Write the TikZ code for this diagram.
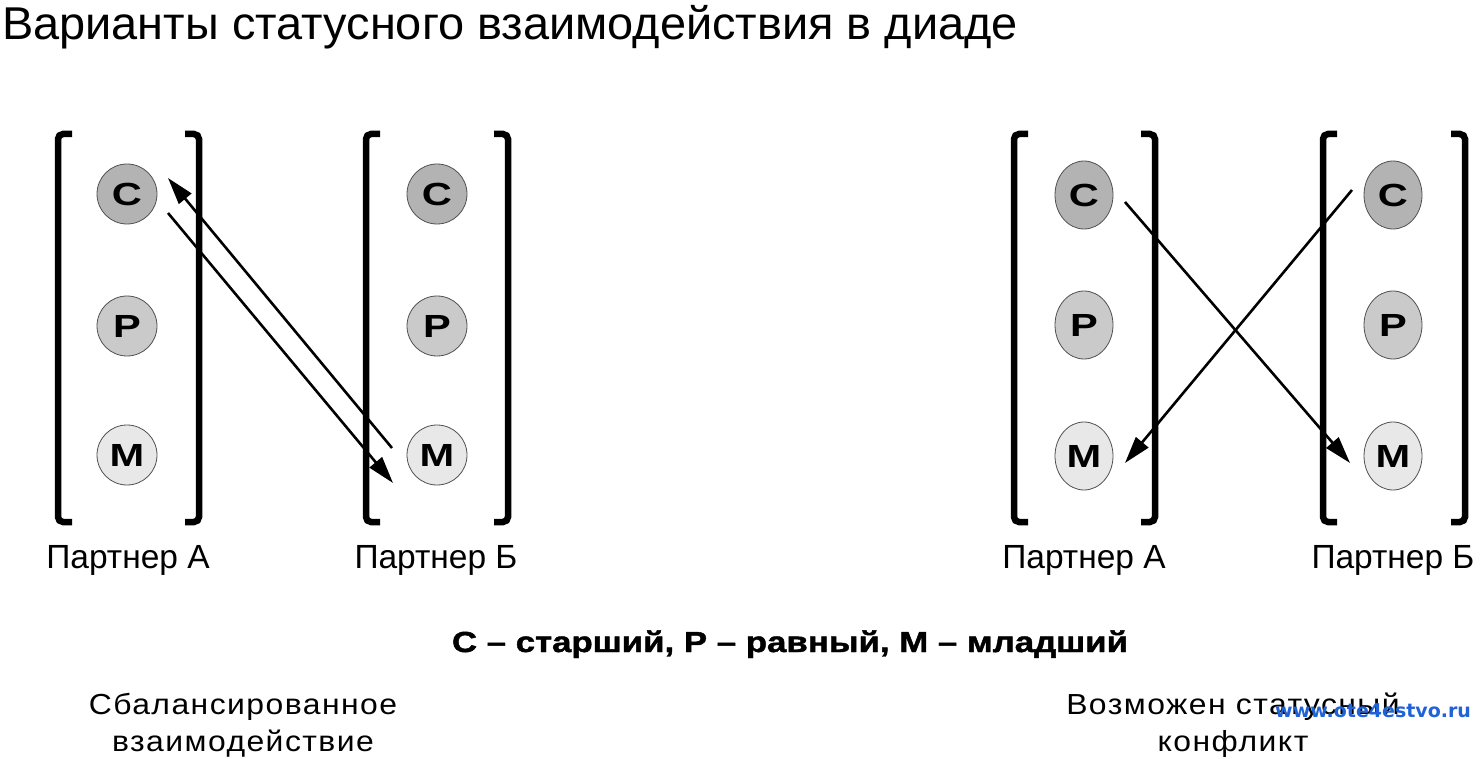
\documentclass[tikz,border=0pt]{standalone}
\usepackage{fontspec}
\setmainfont{Liberation Sans}
\newfontfamily\titlefont[FakeStretch=1.02]{Liberation Sans}
\newfontfamily\spacedfont[FakeStretch=1.1, LetterSpace=5]{Liberation Sans}
\newfontfamily\widefont[FakeStretch=1.3]{Liberation Sans}
\newfontfamily\legendfont[FakeStretch=1.2, FakeBold=1.5]{Liberation Sans}
\newfontfamily\wwwfont{DejaVu Sans}
\usetikzlibrary{arrows.meta, calc, shapes.geometric}
\definecolor{stHigh}{HTML}{B3B3B3}
\definecolor{stEq}{HTML}{CACACA}
\definecolor{stLow}{HTML}{E8E8E8}
\definecolor{stLine}{HTML}{505050}
\definecolor{wwwBlue}{HTML}{1F63D6}

\begin{document}
\begin{tikzpicture}[x=1pt, y=-1pt,
  role/.style={circle, draw=stLine, line width=0.8pt, minimum size=60pt,
               inner sep=0pt, font=\widefont\fontsize{32}{32}\selectfont\bfseries},
  oval/.style={role, ellipse, minimum width=58pt, minimum height=68pt},
  high/.style={fill=stHigh},
  eq/.style={fill=stEq},
  low/.style={fill=stLow},
  brk/.style={line width=6.5pt, rounded corners=5pt},
  arr/.style={-{Triangle[length=27pt, width=16pt]}, line width=2.6pt},
  lab/.style={font=\fontsize{33.5}{33.5}\selectfont, anchor=base},
  note/.style={font=\spacedfont\fontsize{29}{37}\selectfont, align=center, anchor=base}
]
  \useasboundingbox (0,0) rectangle (1481,759);
  \node[anchor=base west, inner sep=0pt, font=\titlefont\fontsize{46}{46}\selectfont]
    (title) at (2,40) {Варианты статусного взаимодействия в диаде};

  % balanced pair
  \draw[brk] (72,134) -- (58,134) -- (58,522) -- (72,522);
  \draw[brk] (185,134) -- (199,134) -- (199,522) -- (185,522);
  \draw[brk] (380,134) -- (366,134) -- (366,522) -- (380,522);
  \draw[brk] (494,134) -- (508,134) -- (508,522) -- (494,522);
  \node[role,high] (c1a) at (127,194) {С};
  \node[role,eq]   (p1a) at (127,326) {Р};
  \node[role,low]  (m1a) at (127,455) {М};
  \node[role,high] (c1b) at (437,194) {С};
  \node[role,eq]   (p1b) at (437,326) {Р};
  \node[role,low]  (m1b) at (437,455) {М};
  \coordinate (up1s) at ($(m1b)+(-45,-7)$);
  \coordinate (up1e) at ($(c1a)+(41,-16)$);
  \coordinate (dn1s) at ($(c1a)+(41,19)$);
  \coordinate (dn1e) at ($(m1b)+(-44,28)$);
  \draw[arr] (up1s) -- (up1e);
  \draw[arr] (dn1s) -- (dn1e);
  \node[lab] (pa1) at (128,568) {Партнер А};
  \node[lab] (pb1) at (436,568) {Партнер Б};

  % conflict pair
  \draw[brk] (1028,134) -- (1014,134) -- (1014,522) -- (1028,522);
  \draw[brk] (1141,134) -- (1155,134) -- (1155,522) -- (1141,522);
  \draw[brk] (1337,134) -- (1323,134) -- (1323,522) -- (1337,522);
  \draw[brk] (1451,134) -- (1465,134) -- (1465,522) -- (1451,522);
  \node[oval,high] (c2a) at (1084,195) {С};
  \node[oval,eq]   (p2a) at (1084,325) {Р};
  \node[oval,low]  (m2a) at (1084,456) {М};
  \node[oval,high] (c2b) at (1393,195) {С};
  \node[oval,eq]   (p2b) at (1393,325) {Р};
  \node[oval,low]  (m2b) at (1393,456) {М};
  \coordinate (x1s) at ($(c2a)+(41,7)$);
  \coordinate (x1e) at ($(m2b)+(-43,7)$);
  \coordinate (x2s) at ($(c2b)+(-41,-5)$);
  \coordinate (x2e) at ($(m2a)+(41,7)$);
  \draw[arr] (x1s) -- (x1e);
  \draw[arr] (x2s) -- (x2e);
  \node[lab] (pa2) at (1084,568) {Партнер А};
  \node[lab] (pb2) at (1393,568) {Партнер Б};

  \node[anchor=base, font=\legendfont\fontsize{29}{29}\selectfont\bfseries]
    (legend) at (790,652) {С – старший, Р – равный, М – младший};
  \node[note] (bal) at (243,751) {Сбалансированное\\взаимодействие};
  \node[note] (conf) at (1233,751) {Возможен статусный\\конфликт};
  \node[anchor=base west, inner sep=0pt, text=wwwBlue,
        font=\wwwfont\bfseries\fontsize{19}{19}\selectfont]
    (www) at (1275,717) {www.ote4estvo.ru};
\end{tikzpicture}
\end{document}
